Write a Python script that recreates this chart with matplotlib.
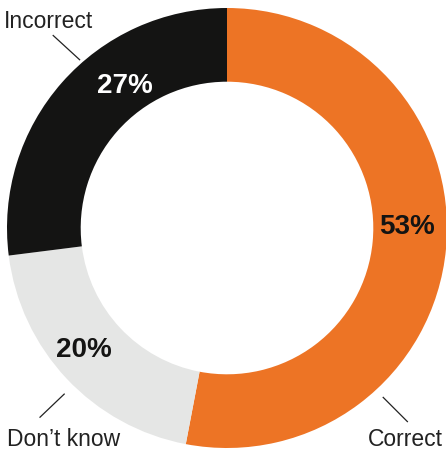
import matplotlib
matplotlib.use("Agg")
import matplotlib.pyplot as plt
import numpy as np

labels = ["Correct", "Don\u2019t know", "Incorrect"]
shares = [53, 20, 27]
colors = ["#ED7425", "#E5E6E5", "#141413"]
pct_colors = ["#141413", "#141413", "#FFFFFF"]

plt.rcParams["font.family"] = ["Liberation Sans", "DejaVu Sans"]

fig = plt.figure(figsize=(4.46, 4.52), dpi=100)
ax = fig.add_axes([7 / 446, 3 / 452, 440 / 446, 440 / 452])

wedges, _ = ax.pie(shares, colors=colors, startangle=90, counterclock=False,
                   radius=1, wedgeprops=dict(width=0.335, linewidth=0))
# pie() sets its own limits, so fix them afterwards
ax.set_xlim(-1, 1)
ax.set_ylim(-1, 1)
ax.set_aspect("equal")
ax.axis("off")

# percentage labels, nudged off the mid angle of each ring segment
pct_pos = [(0.82, 0.01), (-0.65, -0.55), (-0.465, 0.65)]
for (x, y), v, c in zip(pct_pos, shares, pct_colors):
    ax.text(x, y, f"{v}%", ha="center", va="center", fontsize=20,
            fontweight="bold", color=c)

# category names with short leader lines
name_pos = [(0.81, -0.955), (-0.745, -0.955), (-0.81, 0.945)]
leaders = [((0.71, -0.77), (0.82, -0.88)),
           ((-0.85, -0.86), (-0.74, -0.755)),
           ((-0.79, 0.875), (-0.67, 0.765))]
for (x, y), name, (p0, p1) in zip(name_pos, labels, leaders):
    ax.text(x, y, name, ha="center", va="center", fontsize=16.5,
            color="#222222", clip_on=False)
    ax.plot([p0[0], p1[0]], [p0[1], p1[1]], color="#222222", lw=0.9,
            clip_on=False)

fig.savefig("out.png", dpi=100)
